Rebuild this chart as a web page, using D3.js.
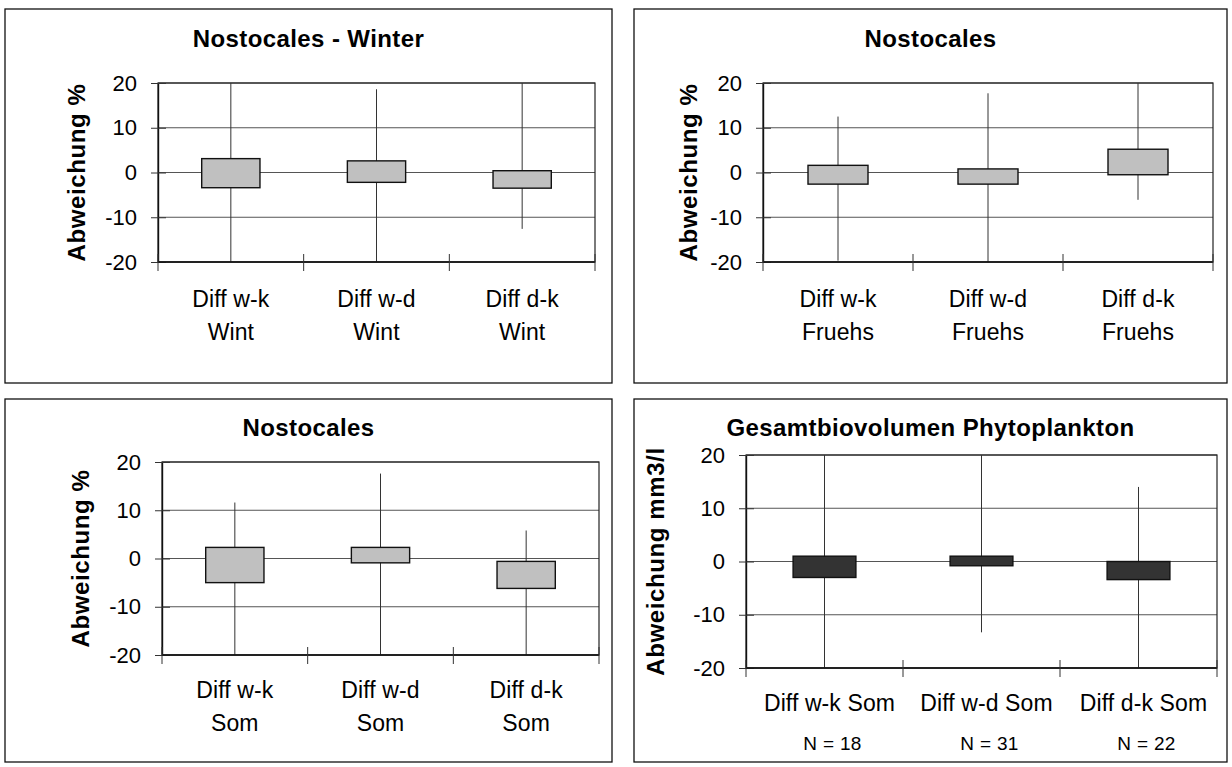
<!DOCTYPE html>
<html><head><meta charset="utf-8">
<script src="https://cdn.jsdelivr.net/npm/d3@7"></script>
<style>
html,body{margin:0;padding:0;background:#fff;}
svg{display:block;font-family:"Liberation Sans",Arial,sans-serif;}
</style></head>
<body>
<svg id="c" width="1232" height="767"></svg>
<script>
// ---- data ----
const yTicks = [-20, -10, 0, 10, 20];

const titles = ["Nostocales - Winter", "Nostocales", "Nostocales", "Gesamtbiovolumen Phytoplankton"];
const yTitles = ["Abweichung %", "Abweichung %", "Abweichung %", "Abweichung mm3/l"];

const catsWinter = [["Diff w-k", "Wint"], ["Diff w-d", "Wint"], ["Diff d-k", "Wint"]];
const catsFruehs = [["Diff w-k", "Fruehs"], ["Diff w-d", "Fruehs"], ["Diff d-k", "Fruehs"]];
const catsSom = [["Diff w-k", "Som"], ["Diff w-d", "Som"], ["Diff d-k", "Som"]];
const catsTotal = [["Diff w-k Som", "N = 18"], ["Diff w-d Som", "N = 31"], ["Diff d-k Som", "N = 22"]];

// whisker low, box low, box high, whisker high (values beyond axis are clipped)
const winterLow  = [-20, -20, -12.6];
const winterQ1   = [-3.4, -2.2, -3.5];
const winterQ3   = [3.1, 2.6, 0.4];
const winterHigh = [20, 18.6, 20];

const fruehsLow  = [-19.7, -20, -6.1];
const fruehsQ1   = [-2.6, -2.6, -0.5];
const fruehsQ3   = [1.6, 0.8, 5.2];
const fruehsHigh = [12.5, 17.7, 20];

const somLow  = [-20, -20, -20];
const somQ1   = [-5.0, -0.9, -6.2];
const somQ3   = [2.3, 2.3, -0.6];
const somHigh = [11.6, 17.6, 5.8];

const totLow  = [-20, -13.3, -20];
const totQ1   = [-3.0, -0.8, -3.4];
const totQ3   = [1.0, 1.0, 0.0];
const totHigh = [20, 20, 14.0];

// ---- layout ----
const panels = [
  {frame:[5,9,612,383],   plot:[158,83,595,262],  titleY:38,  yTitleX:76,  lab1:299, lab2:332, cats:catsWinter, low:winterLow, q1:winterQ1, q3:winterQ3, high:winterHigh, fill:"#c0c0c0", small:false},
  {frame:[634,9,1227,383],plot:[763,83,1213,262], titleY:38,  yTitleX:688, lab1:299, lab2:332, cats:catsFruehs, low:fruehsLow, q1:fruehsQ1, q3:fruehsQ3, high:fruehsHigh, fill:"#c0c0c0", small:false},
  {frame:[5,399,612,762], plot:[162,462,599,655], titleY:427, yTitleX:80,  lab1:690, lab2:723, cats:catsSom, low:somLow, q1:somQ1, q3:somQ3, high:somHigh, fill:"#c0c0c0", small:false},
  {frame:[634,399,1227,762],plot:[746,455,1217,668],titleY:427, yTitleX:655, lab1:703, lab2:743, cats:catsTotal, low:totLow, q1:totQ1, q3:totQ3, high:totHigh, fill:"#333333", small:true}
];

const svg = d3.select("#c");

panels.forEach((p, i) => {
  const [fx0, fy0, fx1, fy1] = p.frame;
  const [px0, py0, px1, py1] = p.plot;
  const g = svg.append("g");

  g.append("rect").attr("x", fx0).attr("y", fy0).attr("width", fx1 - fx0).attr("height", fy1 - fy0)
    .attr("fill", "#fff").attr("stroke", "#111").attr("stroke-width", 1.3);

  const y = d3.scaleLinear().domain([-20, 20]).range([py1, py0]);
  const idx = p.cats.map((c, k) => k);
  const x = d3.scaleBand().domain(idx).range([px0, px1]).paddingInner(0).paddingOuter(0);
  const clampY = v => y(Math.max(-20, Math.min(20, v)));

  // gridlines
  g.append("g").selectAll("line").data(yTicks).join("line")
    .attr("x1", px0).attr("x2", px1).attr("y1", d => y(d)).attr("y2", d => y(d))
    .attr("stroke", "#555").attr("stroke-width", 1);

  // plot border
  g.append("rect").attr("x", px0).attr("y", py0).attr("width", px1 - px0).attr("height", py1 - py0)
    .attr("fill", "none").attr("stroke", "#222").attr("stroke-width", 1.2);

  // whiskers
  g.append("g").selectAll("line").data(idx).join("line")
    .attr("x1", k => x(k) + x.bandwidth() / 2).attr("x2", k => x(k) + x.bandwidth() / 2)
    .attr("y1", k => clampY(p.high[k])).attr("y2", k => clampY(p.low[k]))
    .attr("stroke", "#333").attr("stroke-width", 1);

  // boxes
  const bw = x.bandwidth() * 0.4;
  g.append("g").selectAll("rect").data(idx).join("rect")
    .attr("x", k => x(k) + x.bandwidth() / 2 - bw / 2)
    .attr("width", bw)
    .attr("y", k => y(p.q3[k]))
    .attr("height", k => y(p.q1[k]) - y(p.q3[k]))
    .attr("fill", p.fill).attr("stroke", "#111").attr("stroke-width", 1.4);

  // y axis
  const yAxis = d3.axisLeft(y).tickValues(yTicks).tickSizeInner(7).tickSizeOuter(0).tickPadding(14)
    .tickFormat(d3.format("d"));
  const ya = g.append("g").attr("transform", `translate(${px0},0)`).call(yAxis);
  ya.select(".domain").attr("stroke", "#111").attr("stroke-width", 1.4);
  ya.selectAll(".tick line").attr("stroke", "#333").attr("x2", -7).attr("x1", 8);
  ya.selectAll(".tick text").attr("font-size", 22).attr("fill", "#000")
    .attr("font-family", "'Liberation Sans', Arial, sans-serif").text(d => d < 0 ? "-" + Math.abs(d) : d);

  // x axis (category boundaries)
  const bounds = idx.map(k => x(k)).concat([px1]);
  g.append("line").attr("x1", px0).attr("x2", px1).attr("y1", py1).attr("y2", py1)
    .attr("stroke", "#111").attr("stroke-width", 1.6);
  g.append("g").selectAll("line").data(bounds).join("line")
    .attr("x1", d => d).attr("x2", d => d).attr("y1", py1 - 8).attr("y2", py1 + 9)
    .attr("stroke", "#333").attr("stroke-width", 1);

  // category labels
  const lab = g.append("g").attr("fill", "#000").attr("text-anchor", "middle");
  lab.selectAll("text.l1").data(idx).join("text").attr("class", "l1")
    .attr("x", k => x(k) + x.bandwidth() / 2 + (p.small ? 5 : 0)).attr("y", p.lab1)
    .attr("dy", "0.36em").attr("font-size", 23).attr("letter-spacing", 0.1).text(k => p.cats[k][0]);
  lab.selectAll("text.l2").data(idx).join("text").attr("class", "l2")
    .attr("x", k => x(k) + x.bandwidth() / 2 + (p.small ? 8 : 0)).attr("y", p.lab2)
    .attr("dy", "0.36em")
    .attr("font-size", p.small ? 19 : 23).attr("letter-spacing", p.small ? 0.3 : 0.1)
    .text(k => p.cats[k][1]);

  // title
  g.append("text").attr("x", (fx0 + fx1) / 2).attr("y", p.titleY).attr("dy", "0.36em")
    .attr("text-anchor", "middle").attr("font-size", 24).attr("font-weight", "bold")
    .attr("letter-spacing", 0.4).text(titles[i]);

  // y title
  g.append("text").attr("transform", `translate(${p.yTitleX},${(py0 + py1) / 2}) rotate(-90)`)
    .attr("dy", "0.36em").attr("text-anchor", "middle").attr("font-size", 24).attr("font-weight", "bold")
    .attr("letter-spacing", 0.6).text(yTitles[i]);
});
</script>
</body></html>
